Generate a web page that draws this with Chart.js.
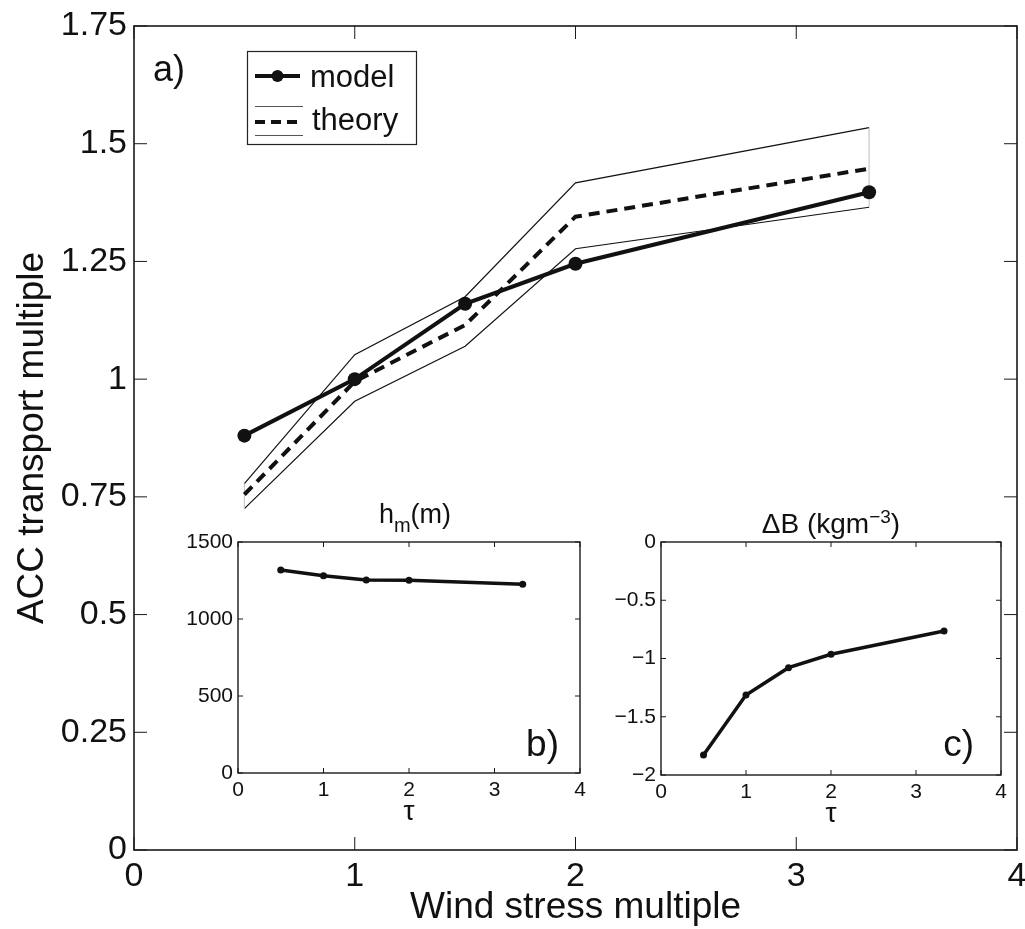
<!DOCTYPE html>
<html>
<head>
<meta charset="utf-8">
<script src="https://cdn.jsdelivr.net/npm/chart.js@4"></script>
<style>
  html, body { margin: 0; padding: 0; background: #fff; }
  #wrap { position: relative; width: 1025px; height: 929px; }
  #wrap canvas { position: absolute; left: 0; top: 0; }
</style>
</head>
<body>
<div id="wrap">
  <canvas id="mainChart" width="1025" height="929"></canvas>
  <canvas id="hmChart" width="1025" height="929"></canvas>
  <canvas id="dbChart" width="1025" height="929"></canvas>
</div>
<script>
// wind stress multiples used in every run
const windStress = [0.5, 1, 1.5, 2, 3.33];

// panel a) ACC transport multiple
const modelTransport = [0.88, 1.0, 1.16, 1.245, 1.397];
const theoryTransport = [0.755, 0.995, 1.115, 1.345, 1.447];
const theoryUpper = [0.778, 1.052, 1.175, 1.417, 1.534];
const theoryLower = [0.725, 0.953, 1.07, 1.277, 1.365];

// panel b) mixed layer depth h_m (m)
const mixedLayerDepth = [1318, 1281, 1253, 1251, 1225];

// panel c) buoyancy jump (kg m^-3)
const buoyancyJump = [-1.828, -1.313, -1.079, -0.964, -0.764];

// tick labels
const tauTicks = [0, 1, 2, 3, 4];
const transportTicks = [0, 0.25, 0.5, 0.75, 1, 1.25, 1.5, 1.75];
const depthTicks = [0, 500, 1000, 1500];
const jumpTicks = [-2, -1.5, -1, -0.5, 0];

const FONT = '"Liberation Sans", Arial, Helvetica, sans-serif';
const INK = '#111';

Chart.defaults.font.family = FONT;
Chart.defaults.color = INK;

const setTicks = list => scale => { scale.ticks = list.map(v => ({ value: v })); };
const minusFmt = v => (v < 0 ? '\u2212' + String(-v) : String(v));
// labels may hang over the canvas edge, like in the original, so drop the overhang padding
const noOverhang = s => { s.paddingLeft = 0; s.paddingRight = 0; s.paddingTop = 0; s.paddingBottom = 0; };

// MATLAB style box with inward ticks on all four sides
const framePlugin = {
  id: 'frame',
  afterDraw(chart, args, opts) {
    const { ctx, chartArea: a, scales: { x, y } } = chart;
    const len = opts.tickLen || 8;
    ctx.save();
    ctx.strokeStyle = '#1a1a1a';
    ctx.lineWidth = opts.lineWidth || 1.5;
    ctx.strokeRect(a.left, a.top, a.right - a.left, a.bottom - a.top);
    ctx.lineWidth = 1;
    ctx.beginPath();
    x.ticks.forEach(t => {
      const px = x.getPixelForValue(t.value);
      ctx.moveTo(px, a.bottom); ctx.lineTo(px, a.bottom - len);
      ctx.moveTo(px, a.top); ctx.lineTo(px, a.top + len);
    });
    y.ticks.forEach(t => {
      const py = y.getPixelForValue(t.value);
      ctx.moveTo(a.left, py); ctx.lineTo(a.left + len, py);
      ctx.moveTo(a.right, py); ctx.lineTo(a.right - len, py);
    });
    ctx.stroke();
    ctx.restore();
  }
};

// free text (panel letters, titles, legend) drawn after the chart
const textPlugin = {
  id: 'extras',
  afterDraw(chart, args, opts) {
    if (opts.draw) opts.draw(chart.ctx, chart);
  }
};

// parts: [text, size, dy]
function drawRich(ctx, parts, cx, baseline) {
  let total = 0;
  parts.forEach(p => { ctx.font = `${p[1]}px ${FONT}`; total += ctx.measureText(p[0]).width; });
  let xp = cx - total / 2;
  ctx.textAlign = 'left';
  ctx.textBaseline = 'alphabetic';
  parts.forEach(p => {
    ctx.font = `${p[1]}px ${FONT}`;
    ctx.fillText(p[0], xp, baseline + p[2]);
    xp += ctx.measureText(p[0]).width;
  });
}

// envelope of the theory: upper edge, down the right end, back along the lower edge, up the left end
const envelope = windStress.map((x, i) => ({ x, y: theoryUpper[i] }))
  .concat(windStress.map((x, i) => ({ x, y: theoryLower[i] })).reverse())
  .concat([{ x: windStress[0], y: theoryUpper[0] }]);

const pts = ys => windStress.map((x, i) => ({ x, y: ys[i] }));

new Chart(document.getElementById('mainChart'), {
  type: 'line',
  data: {
    datasets: [
      {
        label: 'model',
        data: pts(modelTransport),
        borderColor: INK,
        backgroundColor: INK,
        borderWidth: 4,
        pointRadius: 7,
        pointBorderWidth: 0
      },
      {
        label: 'theory',
        data: pts(theoryTransport),
        borderColor: INK,
        borderWidth: 4,
        borderDash: [11, 7],
        pointRadius: 0
      },
      {
        label: 'theory range',
        data: envelope,
        borderWidth: 1.2,
        pointRadius: 0,
        segment: {
          borderColor: c => (c.p0.parsed.x === c.p1.parsed.x ? '#c8c8c8' : INK)
        }
      }
    ]
  },
  options: {
    responsive: false,
    animation: false,
    events: [],
    layout: { padding: { top: 26, right: 8, left: 0, bottom: 0 } },
    scales: {
      x: {
        type: 'linear', min: 0, max: 4,
        afterBuildTicks: setTicks(tauTicks),
        afterFit: s => { s.height = 79; noOverhang(s); },
        grid: { display: false, drawTicks: false },
        border: { display: false },
        ticks: { font: { size: 34 }, padding: 6, maxRotation: 0 },
        title: { display: true, text: 'Wind stress multiple', font: { size: 37, lineHeight: 1.15 }, padding: 0 }
      },
      y: {
        type: 'linear', min: 0, max: 1.75,
        afterBuildTicks: setTicks(transportTicks),
        afterFit: s => { s.width = 134; noOverhang(s); },
        grid: { display: false, drawTicks: false },
        border: { display: false },
        ticks: { font: { size: 34 }, padding: 7, callback: v => String(v) },
        title: { display: true, text: 'ACC transport multiple', font: { size: 37, lineHeight: 1.15 }, padding: { top: 12 } }
      }
    },
    plugins: {
      legend: { display: false },
      tooltip: { enabled: false },
      frame: { tickLen: 13, lineWidth: 1.6 },
      extras: {
        draw(ctx) {
          ctx.save();
          ctx.fillStyle = INK;
          ctx.font = `36px ${FONT}`;
          ctx.textBaseline = 'alphabetic';
          ctx.fillText('a)', 153, 81);

          // legend box
          ctx.strokeStyle = '#222';
          ctx.lineWidth = 1.2;
          ctx.strokeRect(247.5, 51.5, 169, 93);
          ctx.strokeStyle = INK;
          ctx.lineWidth = 4;
          ctx.beginPath(); ctx.moveTo(255, 76); ctx.lineTo(300, 76); ctx.stroke();
          ctx.beginPath(); ctx.arc(277.5, 76, 6, 0, Math.PI * 2); ctx.fill();
          ctx.setLineDash([10, 6]);
          ctx.beginPath(); ctx.moveTo(255, 122); ctx.lineTo(303, 122); ctx.stroke();
          ctx.setLineDash([]);
          ctx.lineWidth = 1;
          ctx.strokeStyle = '#555';
          ctx.beginPath();
          ctx.moveTo(255, 106.5); ctx.lineTo(303, 106.5);
          ctx.moveTo(255, 135.5); ctx.lineTo(303, 135.5);
          ctx.stroke();
          ctx.font = `31px ${FONT}`;
          ctx.fillText('model', 310, 87);
          ctx.fillText('theory', 312, 130);
          ctx.restore();
        }
      }
    }
  },
  plugins: [framePlugin, textPlugin]
});

function insetOptions(pad, yMin, yMax, yTicks, yWidth, fmt, draw) {
  return {
    responsive: false,
    animation: false,
    events: [],
    layout: { padding: pad },
    scales: {
      x: {
        type: 'linear', min: 0, max: 4,
        afterBuildTicks: setTicks(tauTicks),
        afterFit: s => { s.height = 55; noOverhang(s); },
        grid: { display: false, drawTicks: false },
        border: { display: false },
        ticks: { font: { size: 21 }, padding: 5, maxRotation: 0 },
        title: { display: true, text: '\u03c4', font: { size: 28, lineHeight: 1.1 }, padding: 0 }
      },
      y: {
        type: 'linear', min: yMin, max: yMax,
        afterBuildTicks: setTicks(yTicks),
        afterFit: s => { s.width = yWidth; noOverhang(s); },
        grid: { display: false, drawTicks: false },
        border: { display: false },
        ticks: { font: { size: 21 }, padding: 5, callback: fmt }
      }
    },
    plugins: {
      legend: { display: false },
      tooltip: { enabled: false },
      frame: { tickLen: 5, lineWidth: 1.4 },
      extras: { draw }
    }
  };
}

const insetLine = ys => ({
  data: pts(ys),
  borderColor: INK,
  backgroundColor: INK,
  borderWidth: 3.5,
  pointRadius: 3.5,
  pointBorderWidth: 0
});

new Chart(document.getElementById('hmChart'), {
  type: 'line',
  data: { datasets: [insetLine(mixedLayerDepth)] },
  options: insetOptions(
    { left: 180, top: 542, right: 445, bottom: 101 },
    0, 1500, depthTicks, 58, v => String(v),
    (ctx, chart) => {
      const a = chart.chartArea;
      ctx.save();
      ctx.fillStyle = INK;
      drawRich(ctx, [['h', 27, 0], ['m', 20, 9], ['(m)', 27, 0]], (a.left + a.right) / 2 + 6, 523);
      ctx.font = `37px ${FONT}`;
      ctx.textAlign = 'right';
      ctx.fillText('b)', a.right - 21, 756);
      ctx.restore();
    }
  ),
  plugins: [framePlugin, textPlugin]
});

new Chart(document.getElementById('dbChart'), {
  type: 'line',
  data: { datasets: [insetLine(buoyancyJump)] },
  options: insetOptions(
    { left: 601, top: 542, right: 24, bottom: 99 },
    -2, 0, jumpTicks, 60, minusFmt,
    (ctx, chart) => {
      const a = chart.chartArea;
      ctx.save();
      ctx.fillStyle = INK;
      drawRich(ctx, [['\u0394B (kgm', 28, 0], ['\u22123', 19, -10], [')', 28, 0]], (a.left + a.right) / 2, 533);
      ctx.font = `37px ${FONT}`;
      ctx.textAlign = 'right';
      ctx.fillText('c)', a.right - 27, 756);
      ctx.restore();
    }
  ),
  plugins: [framePlugin, textPlugin]
});
</script>
</body>
</html>
